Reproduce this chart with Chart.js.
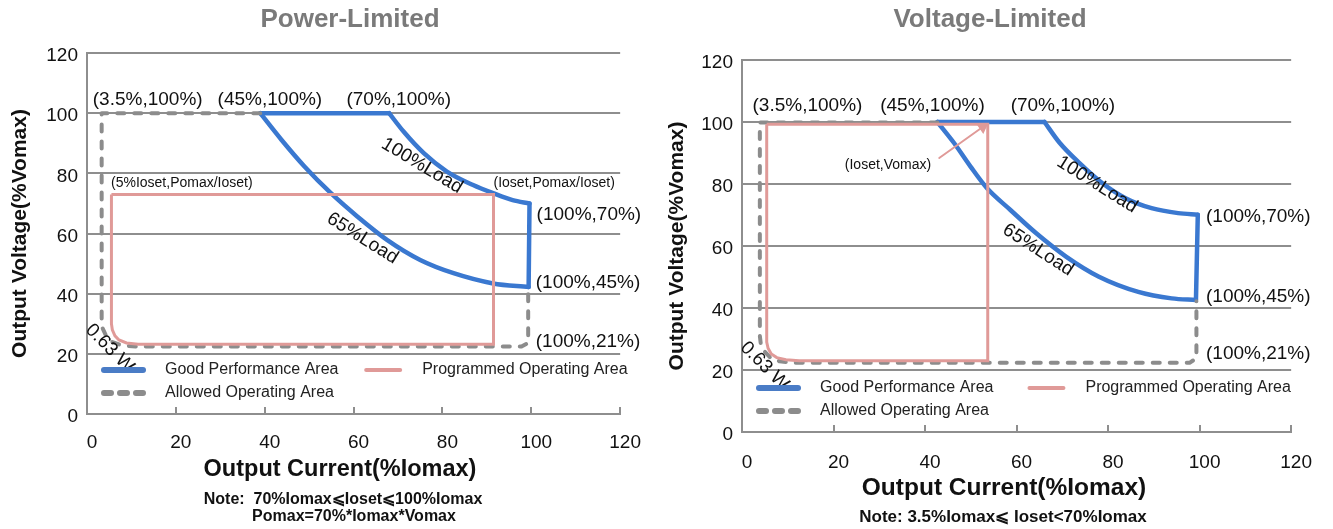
<!DOCTYPE html>
<html>
<head>
<meta charset="utf-8">
<script src="https://cdn.jsdelivr.net/npm/chart.js@4/dist/chart.umd.min.js"></script>
<style>
  body { margin: 0; width: 1333px; height: 529px; position: relative; overflow: hidden; background: #fff;
         font-family: "Liberation Sans", Arial, sans-serif; }
  canvas { position: absolute; top: 0; }
  .txt { position: absolute; transform: translate(-50%, -50%); white-space: nowrap; font-weight: bold; color: #111; }
  .title { font-size: 26px; color: #7a7a7a; }
  .xtitle { font-size: 23.5px; }
  .note { font-size: 16px; }
</style>
</head>
<body>
<canvas id="pwr" width="660" height="529" style="left:0"></canvas>
<canvas id="vlt" width="673" height="529" style="left:660px"></canvas>

<div class="txt title" style="left:350px;top:18px">Power-Limited</div>
<div class="txt title" style="left:990px;top:18px">Voltage-Limited</div>
<div class="txt xtitle" style="left:340px;top:468px">Output Current(%Iomax)</div>
<div class="txt xtitle" style="left:1004px;top:487px;font-size:24.5px">Output Current(%Iomax)</div>
<div class="txt note" style="left:343px;top:498px">Note:&nbsp; 70%Iomax⩽Ioset⩽100%Iomax</div>
<div class="txt note" style="left:354px;top:516px">Pomax=70%*Iomax*Vomax</div>
<div class="txt note" style="left:1003px;top:516px;font-size:17px">Note: 3.5%Iomax⩽ Ioset&lt;70%Iomax</div>

<script>
// ---- Power-Limited (left) : [Iout %, Vout %] ----
const pwrTopEdge    = [[39, 100], [68, 100]];
const pwrLoad100    = [[68, 100], [71.3, 93.8], [75.8, 86.7], [81, 80.6], [86.9, 76.1], [91.4, 73.4], [95.8, 71.1], [99.6, 70]];
const pwrRightEdge  = [[99.6, 70], [99.4, 42.2]];
const pwrLoad65     = [[39, 100], [43.8, 91.1], [49, 82.2], [54.9, 73.4], [60.9, 65.6], [67.6, 57.8], [75, 51.2], [82.5, 46.8], [91.4, 43.4], [99.4, 42.2]];
const pwrAllowed    = [[39, 100], [3.3, 100], [3.3, 31], [3.5, 28.5], [4.3, 26], [5.6, 24], [7.6, 22.9], [11, 22.4], [97.8, 22.4], [99.3, 23.6], [99.3, 42.4]];
const pwrProgrammed = [[5.5, 73], [5.5, 30], [5.7, 28], [6.3, 26], [7.2, 24.6], [8.9, 23.6], [11.5, 23.2], [91.5, 23.2], [91.5, 73], [5.5, 73]];

// ---- Voltage-Limited (right) ----
const vltTopEdge    = [[42.7, 100], [66.1, 100]];
const vltLoad100    = [[66.1, 100], [69.4, 93.3], [73.7, 86.8], [78.7, 80.3], [83.7, 75.5], [89.5, 72.2], [95.3, 70.6], [99.6, 70.1]];
const vltRightEdge  = [[99.6, 70.1], [99.2, 42.6]];
const vltLoad65     = [[42.7, 100], [46.3, 93.3], [49.9, 85.7], [53.5, 78.7], [58.6, 71.7], [64.3, 64.1], [70.8, 56.6], [78, 50.1], [86.6, 45.2], [93.9, 43.1], [99.2, 42.6]];
const vltAllowed    = [[42.7, 99.8], [3.9, 99.8], [3.9, 31], [4.1, 28.5], [4.9, 26], [6.2, 24], [8.2, 22.8], [11, 22.3], [97.8, 22.3], [99.3, 23.8], [99.3, 42.2]];
const vltProgrammed = [[5.4, 99.3], [5.4, 29], [5.7, 27], [6.4, 25.2], [7.6, 24], [9.6, 23.3], [12.5, 23], [53.7, 23], [53.7, 99.3], [5.4, 99.3]];
const vltArrow      = [[43.1, 88.4], [52.6, 98.4]];

// point labels, anchored in data units
const pwrNotes = [
  { text: '(3.5%,100%)', x: 1.3, y: 104.4 },
  { text: '(45%,100%)', x: 29.4, y: 104.4 },
  { text: '(70%,100%)', x: 58.4, y: 104.4 },
  { text: '(5%Ioset,Pomax/Ioset)', x: 5.4, y: 76.7, size: 14 },
  { text: '(Ioset,Pomax/Ioset)', x: 91.5, y: 76.7, size: 14 },
  { text: '(100%,70%)', x: 101.2, y: 66.2 },
  { text: '(100%,45%)', x: 101, y: 43.5 },
  { text: '(100%,21%)', x: 101, y: 24 },
  { text: '100%Load', x: 75.4, y: 82.5, rot: 31, align: 'center' },
  { text: '65%Load', x: 62, y: 58.4, rot: 32, align: 'center' },
  { text: '0.63 W', x: 5.1, y: 21.8, rot: 45, align: 'center' }
];
const vltNotes = [
  { text: '(3.5%,100%)', x: 2.3, y: 105.1 },
  { text: '(45%,100%)', x: 30.2, y: 105.1 },
  { text: '(70%,100%)', x: 58.7, y: 105.1 },
  { text: '(Ioset,Vomax)', x: 31.9, y: 86.2, size: 14, align: 'center' },
  { text: '(100%,70%)', x: 101.4, y: 69.5 },
  { text: '(100%,45%)', x: 101.4, y: 43.6 },
  { text: '(100%,21%)', x: 101.4, y: 25.3 },
  { text: '100%Load', x: 77.6, y: 79.8, rot: 32, align: 'center' },
  { text: '65%Load', x: 64.7, y: 58.7, rot: 33, align: 'center' },
  { text: '0.63 W', x: 4.9, y: 21.3, rot: 45, align: 'center' }
];

const FONT = '"Liberation Sans", Arial, sans-serif';
const BLUE = '#3a78d0';
const PINK = '#e09a98';
const GRAY = '#8c8c8c';
const GRID = '#8e8e8e';

const pts = arr => arr.map(([x, y]) => ({ x, y }));

function line(data, color, width, extra) {
  return Object.assign({
    data: pts(data), showLine: true, borderColor: color, borderWidth: width,
    pointRadius: 0, fill: false, tension: 0, borderCapStyle: 'round', borderJoinStyle: 'round'
  }, extra || {});
}

function datasets(s) {
  const curve = { cubicInterpolationMode: 'monotone' };
  const list = [
    line(s.programmed, PINK, 3, { borderCapStyle: 'butt', borderJoinStyle: 'miter' }),
    line(s.allowed, GRAY, 4, { borderDash: [7, 10] }),
    line(s.top, BLUE, 4.5),
    line(s.load100, BLUE, 4.5, curve),
    line(s.side, BLUE, 4.5),
    line(s.load65, BLUE, 4.5, curve)
  ];
  if (s.arrow) {
    list.unshift(line(s.arrow, PINK, 2, {
      pointRadius: [0, 5], pointStyle: 'triangle', pointRotation: 55,
      pointBackgroundColor: PINK, pointBorderColor: PINK
    }));
  }
  return list;
}

function notesPlugin(notes) {
  return {
    id: 'notes',
    afterDatasetsDraw(chart) {
      const { ctx, chartArea: a, scales: { x, y } } = chart;
      ctx.save();
      ctx.fillStyle = '#111';
      ctx.textBaseline = 'middle';
      for (const n of notes) {
        ctx.save();
        ctx.translate(x.getPixelForValue(n.x), y.getPixelForValue(n.y));
        ctx.rotate((n.rot || 0) * Math.PI / 180);
        ctx.font = (n.size || 19) + 'px ' + FONT;
        ctx.textAlign = n.align || 'left';
        ctx.fillText(n.text, 0, 0);
        ctx.restore();
      }
      // legend inside the plot, bottom-left
      const r1 = a.bottom - 44, r2 = a.bottom - 21;
      const c1 = a.left + 14, c2 = a.left + (a.right - a.left) * 0.518;
      const items = [
        { text: 'Good Performance Area', x: c1, y: r1, len: 45, color: '#4a7cc6', w: 6, dash: [] },
        { text: 'Programmed Operating Area', x: c2, y: r1, len: 40, color: PINK, w: 4, dash: [] },
        { text: 'Allowed Operating Area', x: c1, y: r2, len: 45, color: GRAY, w: 6, dash: [7, 9] }
      ];
      ctx.font = '16px ' + FONT;
      ctx.textAlign = 'left';
      for (const it of items) {
        ctx.beginPath();
        ctx.strokeStyle = it.color;
        ctx.lineWidth = it.w;
        ctx.lineCap = 'round';
        ctx.setLineDash(it.dash);
        ctx.moveTo(it.x + 3, it.y);
        ctx.lineTo(it.x + it.len - 3, it.y);
        ctx.stroke();
        ctx.setLineDash([]);
        ctx.fillStyle = '#222';
        ctx.fillText(it.text, it.x + (it.len > 42 ? 64 : 59), it.y);
      }
      ctx.restore();
    }
  };
}

function makeChart(id, s) {
  return new Chart(document.getElementById(id), {
    type: 'scatter',
    data: { datasets: datasets(s) },
    options: {
      responsive: false,
      animation: false,
      events: [],
      layout: { padding: { top: s.top0, right: 35, bottom: 0, left: 0 } },
      plugins: { legend: { display: false }, tooltip: { enabled: false } },
      scales: {
        x: {
          type: 'linear', min: 0, max: 120,
          ticks: { stepSize: 20, color: '#111', font: { size: 19, family: FONT }, padding: s.xPad, labelOffset: 5 },
          grid: { drawOnChartArea: false, drawTicks: true, tickLength: -7, color: GRID, lineWidth: 2 },
          border: { color: GRID, width: 2 },
          afterFit: sc => { sc.height = s.xH; }
        },
        y: {
          type: 'linear', min: 0, max: 120,
          ticks: { stepSize: 20, color: '#111', font: { size: 19, family: FONT }, padding: 9, labelOffset: 3 },
          grid: { drawTicks: false, color: GRID, lineWidth: 2 },
          border: { color: GRID, width: 2 },
          title: {
            display: true, text: 'Output Voltage(%Vomax)', color: '#111',
            font: { size: 21, weight: 'bold', family: FONT }, padding: { top: s.yTitlePad, bottom: 0 }
          },
          afterFit: sc => { sc.width = s.yW; }
        }
      }
    },
    plugins: [notesPlugin(s.notes)]
  });
}

makeChart('pwr', {
  programmed: pwrProgrammed, allowed: pwrAllowed, top: pwrTopEdge, load100: pwrLoad100,
  side: pwrRightEdge, load65: pwrLoad65, notes: pwrNotes,
  top0: 53, xH: 115, yW: 87, xPad: 24, yTitlePad: 8
});
makeChart('vlt', {
  programmed: vltProgrammed, allowed: vltAllowed, top: vltTopEdge, load100: vltLoad100,
  side: vltRightEdge, load65: vltLoad65, arrow: vltArrow, notes: vltNotes,
  top0: 60, xH: 97, yW: 82, xPad: 26, yTitlePad: 5
});
</script>
</body>
</html>
